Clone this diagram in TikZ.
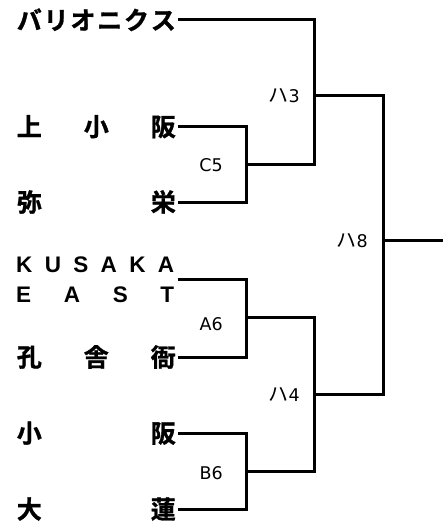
\documentclass[tikz,border=0pt]{standalone}
\usepackage{fontspec}
\newfontfamily\jp{Noto Sans CJK JP}[BoldFont={Noto Sans CJK JP Bold}, BoldFeatures={FakeBold=1.2}]
\newfontfamily\lsans{Liberation Sans}
\newfontfamily\dvs{DejaVu Sans}
\newcommand{\spread}[1]{\makebox[159pt][s]{#1}}
\newcommand{\ha}{{\jp\fontsize{20}{20}\selectfont ハ}}
\begin{document}
\begin{tikzpicture}[x=1pt,y=-1pt,
  team/.style={anchor=east, inner xsep=2pt, inner ysep=0pt,
    font=\jp\bfseries\fontsize{25}{28}\selectfont,
    text height=22pt, text depth=3pt},
  lab/.style={anchor=east, inner sep=0pt,
    font=\dvs\fontsize{17.5}{20}\selectfont,
    text height=12.8pt, text depth=0pt},
  br/.style={line width=3pt, draw=black}]
\useasboundingbox (0,0) rectangle (443,524);
% teams
\node[team] (t1) at (178,20)    {\spread{バ\hfill リ\hfill オ\hfill ニ\hfill ク\hfill ス}};
\node[team] (t2) at (178,126.5) {\spread{上\hfill 小\hfill 阪}};
\node[team] (t3) at (178,202)   {\spread{弥\hfill 栄}};
\node[anchor=north west, inner sep=0pt, align=left,
      font=\lsans\bfseries\fontsize{22.5}{30}\selectfont] (t4) at (16,257)
      {\makebox[158pt][s]{K\hfill U\hfill S\hfill A\hfill K\hfill A}\\
       \makebox[158pt][s]{E\hfill A\hfill S\hfill T}};
\coordinate (t4o) at (178,279);
\node[team] (t5) at (178,357)   {\spread{孔\hfill 舎\hfill 衙}};
\node[team] (t6) at (178,433)   {\spread{小\hfill 阪}};
\node[team] (t7) at (178,509)   {\spread{大\hfill 蓮}};
% junctions
\coordinate (c5) at (246,164);
\coordinate (a6) at (246,317);
\coordinate (b6) at (246,471);
\coordinate (h3) at (314,96);
\coordinate (h4) at (314,394);
\coordinate (h8) at (383,240);
\coordinate (fin) at (443,240);
% brackets
\draw[br] (t2.east) -| (c5) |- (t3.east);
\draw[br] (t4o) -| (a6) |- (t5.east);
\draw[br] (t6.east) -| (b6) |- (t7.east);
\draw[br] (c5) -| (h3) |- (t1.east);
\draw[br] (a6) -| (h4) |- (b6);
\draw[br] (h3) -| (h8) |- (h4);
\draw[br] (h8) -- (fin);
% labels
\node[lab] (lc5) at (223,165)   {C5};
\node[lab] (la6) at (223,324)   {A6};
\node[lab] (lb6) at (223,473)   {B6};
\node[lab] (l3)  at (300,96.5)  {\ha 3};
\node[lab] (l4)  at (300,395)   {\ha 4};
\node[lab] (l8)  at (368,241)   {\ha 8};
\end{tikzpicture}
\end{document}
